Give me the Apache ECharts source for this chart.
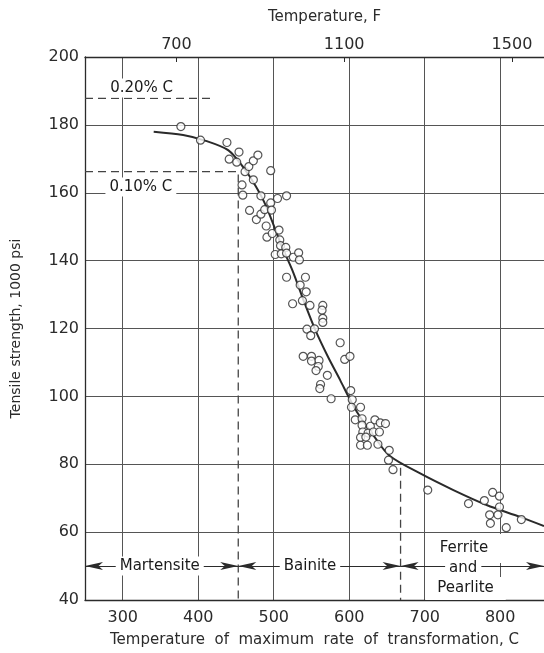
<!DOCTYPE html>
<html>
<head>
<meta charset="utf-8">
<script src="https://cdn.jsdelivr.net/npm/echarts@6/dist/echarts.min.js"></script>
<style>
html,body{margin:0;padding:0;background:#fff;}
#main{width:544px;height:653px;}
</style>
</head>
<body>
<div id="main"></div>
<script>
// tick values
var gridC = [300, 400, 500, 600, 700, 800];
var ticksF = [700, 1100, 1500];

// test points, temperature C / tensile strength 1000 psi
var pointC = [377, 403, 438, 441, 451, 454, 458, 459, 462, 467, 468, 473, 473, 479, 477, 483, 483, 488, 490, 491,
  496, 496, 497, 498, 502, 505, 507, 508, 509, 510, 516, 517, 517, 517, 526, 533, 534, 525, 535, 538,
  542, 543, 548, 544, 554, 549, 565, 564, 565, 565, 588, 539, 550, 550, 560, 559, 556, 594, 601, 571,
  562, 561, 576, 602, 604, 603, 615, 608, 617, 617, 628, 634, 641, 648, 618, 625, 632, 640, 615, 622,
  615, 624, 638, 653, 652, 658, 704, 758, 779, 790, 799, 799, 786, 797, 787, 808, 828];
var pointKsi = [179.5, 175.5, 174.8, 169.9, 169.0, 172.0, 162.3, 159.3, 166.2, 167.7, 154.8, 169.4, 163.8, 171.1, 152.1, 159.1, 153.7, 155.0, 150.2, 146.9,
  166.5, 157.0, 154.9, 148.0, 141.8, 158.3, 149.0, 146.1, 144.4, 142.0, 143.9, 159.1, 142.2, 135.1, 141.0, 142.3, 140.2, 127.3, 132.8, 128.2,
  135.1, 130.8, 126.8, 119.8, 119.9, 117.9, 126.8, 125.4, 123.0, 121.8, 115.8, 111.8, 111.8, 110.4, 110.6, 108.8, 107.6, 110.9, 111.8, 106.2,
  103.5, 102.3, 99.3, 101.7, 99.0, 96.8, 96.8, 93.1, 93.4, 91.5, 91.2, 93.1, 92.2, 92.0, 89.5, 89.2, 89.5, 89.5, 87.9, 88.0,
  85.6, 85.6, 85.9, 84.1, 81.2, 78.4, 72.4, 68.4, 69.3, 71.7, 70.6, 67.4, 65.1, 65.1, 62.6, 61.3, 63.7];

// fitted curve
var curveC = [341, 380, 410, 440, 460, 476, 490, 510, 525, 540, 555, 572, 588, 600, 610, 620, 632, 653, 694, 738, 782, 826, 858];
var curveKsi = [178.0, 177.0, 175.3, 172.5, 167.4, 162.0, 156.0, 144.6, 137.0, 128.0, 119.6, 111.6, 104.8, 99.5, 95.5, 92.2, 88.5, 82.6, 77.3, 72.4, 68.0, 64.5, 61.8];

// dashed guide lines
var c20C = [250, 420], c20Ksi = [187.8, 187.8];
var c10C = [250, 453, 453], c10Ksi = [166.2, 166.2, 40];
var pearC = [668, 668], pearKsi = [79, 40];

// phase ranges
var phaseEdges = [250, 453, 668, 858];
var phaseKsi = 50;

// text notes
var noteText = ['0.20% C', '0.10% C', 'Martensite', 'Bainite', 'Ferrite', 'and', 'Pearlite'];
var noteC = [325, 324, 349, 548, 752, 751, 754];
var noteKsi = [190.9, 161.7, 50, 50, 55.2, 49.3, 43.4];

function zip(a, b) {
  var out = [];
  for (var i = 0; i < a.length; i++) out.push([a[i], b[i]]);
  return out;
}
function cToF(c) { return c * 1.8 + 32; }

var ink = '#2b2b2b';
var font = 'DejaVu Sans';

var phaseLines = [];
for (var i = 0; i < phaseEdges.length - 1; i++) {
  phaseLines.push([{ coord: [phaseEdges[i], phaseKsi] }, { coord: [phaseEdges[i + 1], phaseKsi] }]);
}

var notes = [];
for (var j = 0; j < noteText.length; j++) {
  notes.push({
    value: [noteC[j], noteKsi[j]],
    label: { formatter: noteText[j] }
  });
}
// wider white box where the text breaks grid lines
notes[4].label.padding = [11, 13, 3, 13];
notes[6].label.padding = [3, 12, 5, 12];

var chart = echarts.init(document.getElementById('main'));
var option = {
  animation: false,
  backgroundColor: '#fff',
  textStyle: { fontFamily: font, color: ink },
  grid: { left: 85, right: 0, top: 57, bottom: 53, containLabel: false },
  xAxis: [{
    type: 'value', min: 250, max: 858, position: 'bottom',
    name: 'Temperature  of  maximum  rate  of  transformation, C',
    nameLocation: 'middle', nameGap: 33,
    nameTextStyle: { fontSize: 15, color: ink, fontFamily: font },
    axisLine: { lineStyle: { color: ink, width: 1.3 } },
    axisTick: { show: true, length: 0, customValues: gridC },
    axisLabel: { customValues: gridC, fontSize: 16, color: ink, margin: 10, fontFamily: font },
    splitLine: { show: true, lineStyle: { color: '#555', width: 1 } }
  }, {
    type: 'value', min: cToF(250), max: cToF(858), position: 'top',
    name: 'Temperature, F', nameLocation: 'middle', nameGap: 32,
    nameTextStyle: { fontSize: 15, color: ink, fontFamily: font, padding: [0, 0, 0, 20] },
    axisLine: { lineStyle: { color: ink, width: 1.3 } },
    axisTick: { show: true, inside: true, length: 5, customValues: ticksF, lineStyle: { color: ink } },
    axisLabel: {
      customValues: ticksF, fontSize: 16, color: ink, margin: 4, fontFamily: font,
      formatter: function (v) { return String(v); }
    },
    splitLine: { show: false }
  }],
  yAxis: {
    type: 'value', min: 40, max: 200, interval: 20,
    name: 'Tensile strength, 1000 psi', nameLocation: 'middle', nameGap: 62,
    nameTextStyle: { fontSize: 14, color: ink, fontFamily: font },
    axisLine: { show: true, lineStyle: { color: ink, width: 1.3 } },
    axisTick: { show: false },
    axisLabel: { fontSize: 16, color: ink, margin: 6, fontFamily: font },
    splitLine: { show: true, lineStyle: { color: '#555', width: 1 } }
  },
  series: [{
    type: 'line', data: zip(c20C, c20Ksi), symbol: 'none', z: 3,
    lineStyle: { color: '#444', width: 1.3, type: [8, 5] }
  }, {
    type: 'line', data: zip(c10C, c10Ksi), symbol: 'none', z: 3,
    lineStyle: { color: '#444', width: 1.3, type: [8, 5] }
  }, {
    type: 'line', data: zip(pearC, pearKsi), symbol: 'none', z: 3,
    lineStyle: { color: '#444', width: 1.3, type: [8, 5] }
  }, {
    type: 'line', data: zip(curveC, curveKsi), symbol: 'none', smooth: 0.3, z: 4,
    lineStyle: { color: '#2a2a2a', width: 2 }
  }, {
    type: 'scatter', data: zip(pointC, pointKsi), symbol: 'circle', symbolSize: 8, z: 5,
    itemStyle: { color: '#fff', borderColor: '#2a2a2a', borderWidth: 1.2 }
  }, {
    type: 'line', data: [], z: 3,
    markLine: {
      silent: true, symbol: ['arrow', 'arrow'], symbolSize: [6, 18], precision: 0,
      label: { show: false },
      lineStyle: { color: ink, width: 1.2, type: 'solid', opacity: 1 },
      data: phaseLines
    }
  }, {
    type: 'scatter', data: notes, symbolSize: 0, z: 6, silent: true,
    label: {
      show: true, position: 'inside', fontSize: 15, color: '#1a1a1a', fontFamily: font,
      backgroundColor: '#fff', padding: [2, 4], opacity: 1
    }
  }]
};
chart.setOption(option);
</script>
</body>
</html>
